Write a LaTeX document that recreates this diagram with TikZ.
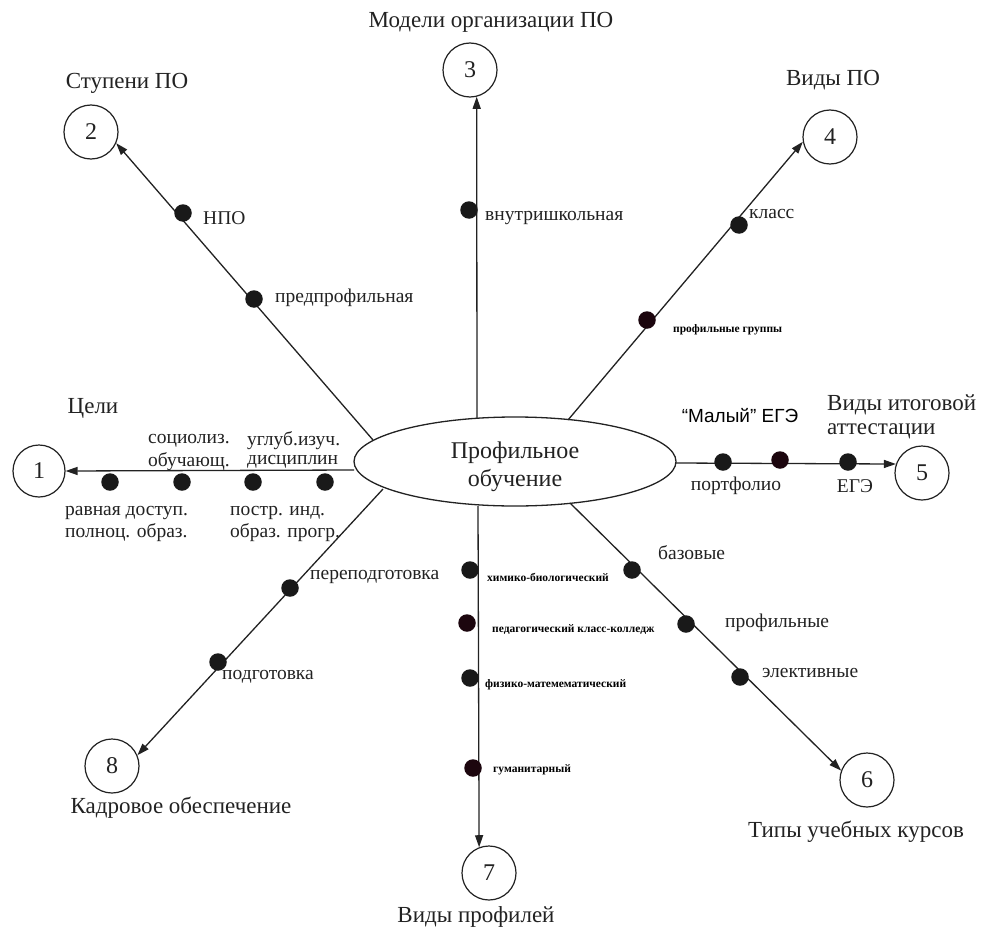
\documentclass[tikz,border=0pt]{standalone}
\usepackage{fontspec}
\setmainfont{Liberation Serif}
\newfontfamily\arialf{Liberation Sans}
\usetikzlibrary{arrows.meta,shapes.geometric}
\definecolor{ink}{RGB}{34,34,34}
\definecolor{dotc}{RGB}{25,25,25}
\definecolor{dotm}{RGB}{28,6,14}
\tikzset{
  title/.style={font=\fontsize{23}{26}\selectfont, text=ink, inner sep=0pt},
  lab/.style={font=\fontsize{19.5}{23}\selectfont, text=ink, inner sep=0pt},
  tiny/.style={font=\bfseries\fontsize{11.5}{13}\selectfont, text=black, inner sep=0pt},
  numc/.style={circle, draw=ink, line width=1.2pt, minimum size=54pt, inner sep=0pt, font=\fontsize{24}{26}\selectfont, text=ink},
  dot/.style={circle, fill=dotc, minimum size=17.5pt, inner sep=0pt},
  dotb/.style={circle, fill=dotm, minimum size=17.5pt, inner sep=0pt},
  arr/.style={draw=ink, line width=1.3pt, -{Triangle[length=12pt,width=8pt]}},
}
\begin{document}
\begin{tikzpicture}[x=1pt,y=-1pt]
\useasboundingbox[fill=white] (0,0) rectangle (987,931);

% centre
\node[ellipse, draw=ink, line width=1.3pt, minimum width=322pt, minimum height=89pt, inner sep=0pt] (ell) at (515,461.5) {};
\node[align=center, font=\fontsize{24}{28}\selectfont, text=ink, inner sep=0pt] (ellt) at (515,467) {Профильное\\обучение};

% circles
\node[numc, minimum size=52pt] (c1) at (39,471) {1};
\node[numc] (c2) at (91,132) {2};
\node[numc] (c3) at (470,70) {3};
\node[numc] (c4) at (830,137) {4};
\node[numc] (c5) at (922,473) {5};
\node[numc] (c6) at (867,780) {6};
\node[numc] (c7) at (489,873) {7};
\node[numc] (c8) at (112,766) {8};

% ellipse-side ends
\coordinate (e1) at (354,470);
\coordinate (e2) at (373,440);
\coordinate (e3) at (477,418);
\coordinate (e4) at (568,420);
\coordinate (e5) at (676,463);
\coordinate (e6) at (570,503);
\coordinate (e7) at (478,506);
\coordinate (e8) at (383,489);

% connectors
\draw[arr] (e1) -- (c1.east);
\draw[arr] (e2) -- (c2.-24);
\draw[arr] (e3) -- (c3.-76);
\draw[arr] (e4) -- (c4.-170);
\draw[arr] (e5) -- (c5.161);
\draw[arr] (e6) -- (c6.160);
\draw[arr] (e7) -- (c7.111);
\draw[arr] (e8) -- (c8.23);

% titles
\node[title] (t1) at (93,408) {Цели};
\node[title] (t2) at (127,83) {Ступени ПО};
\node[title] (t3) at (491,22) {Модели организации ПО};
\node[title] (t4) at (833,80) {Виды ПО};
\node[title, anchor=west] (t5a) at (827,405) {Виды итоговой};
\node[title, anchor=west] (t5b) at (827,431) {аттестации};
\node[title] (t6) at (856,832) {Типы учебных курсов};
\node[title] (t7) at (476,917) {Виды профилей};
\node[title] (t8) at (181,808) {Кадровое обеспечение};

% branch 1
\node[dot] (d11) at (110,482) {};
\node[dot] (d12) at (182,482) {};
\node[dot] (d13) at (253,482) {};
\node[dot] (d14) at (325,482) {};
\node[lab, anchor=west] (l11) at (148,441) {социолиз.};
\node[lab, anchor=west] (l12) at (148,462) {обучающ.};
\node[lab, anchor=west] (l13) at (247,441) {углуб.изуч.};
\node[lab, anchor=west] (l14) at (247,462) {дисциплин};
\node[lab, anchor=west] (l15) at (65,513) {равная доступ.};
\node[lab, anchor=west] (l16) at (65,533) {полноц. образ.};
\node[lab, anchor=west] (l17) at (230,513) {постр. инд.};
\node[lab, anchor=west] (l18) at (230,533) {образ. прогр.};

% branch 2
\node[dot] (d21) at (183,213) {};
\node[dot] (d22) at (254,299) {};
\node[lab, anchor=west] (l21) at (203,218) {НПО};
\node[lab, anchor=west] (l22) at (275,298) {предпрофильная};

% branch 3
\node[dot] (d31) at (469,210) {};
\node[lab, anchor=west] (l31) at (485,218) {внутришкольная};

% branch 4
\node[dot] (d41) at (739,225) {};
\node[dotb] (d42) at (647,320) {};
\node[lab, anchor=west] (l41) at (749,214) {класс};
\node[tiny, anchor=west] (l42) at (673,330) {профильные группы};

% branch 5
\node[dot] (d51) at (723,462) {};
\node[dotb] (d52) at (780,460) {};
\node[dot] (d53) at (848,462) {};
\node[font=\arialf\fontsize{19}{22}\selectfont, text=black, inner sep=0pt] (l51) at (740,416) {“Малый” ЕГЭ};
\node[lab] (l52) at (736,486) {портфолио};
\node[lab] (l53) at (855,486) {ЕГЭ};

% branch 6
\node[dot] (d61) at (632,570) {};
\node[dot] (d62) at (686,624) {};
\node[dot] (d63) at (740,677) {};
\node[lab, anchor=west] (l61) at (658,553) {базовые};
\node[lab, anchor=west] (l62) at (725,623) {профильные};
\node[lab, anchor=west] (l63) at (762,673) {элективные};

% branch 7
\node[dot] (d71) at (470,570) {};
\node[dotb] (d72) at (467,623) {};
\node[dot] (d73) at (470,678) {};
\node[dotb] (d74) at (473,768) {};
\node[tiny, anchor=west] (l71) at (487,577) {химико-биологический};
\node[tiny, anchor=west] (l72) at (492,630) {педагогический класс-колледж};
\node[tiny, anchor=west] (l73) at (485,685) {физико-матемематический};
\node[tiny, anchor=west] (l74) at (493,770) {гуманитарный};

% branch 8
\node[dot] (d81) at (290,588) {};
\node[dot] (d82) at (218,662) {};
\node[lab, anchor=west] (l81) at (310,577) {переподготовка};
\node[lab, anchor=west] (l82) at (222,677) {подготовка};
\end{tikzpicture}
\end{document}
